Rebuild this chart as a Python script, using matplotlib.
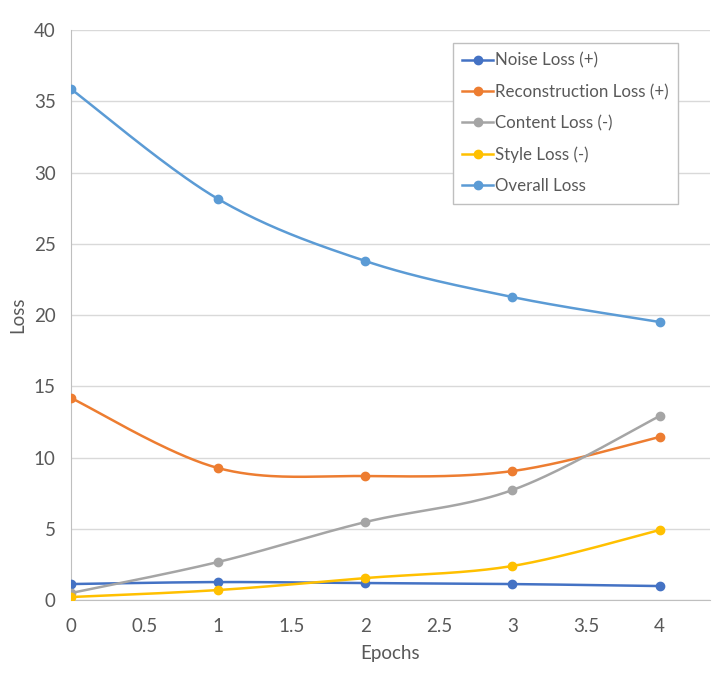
import numpy as np
import matplotlib
matplotlib.use("Agg")
import matplotlib.pyplot as plt

epochs = [0, 1, 2, 3, 4]
noise_loss = [1.12, 1.26, 1.19, 1.12, 0.98]
recon_loss = [14.18, 9.26, 8.70, 9.05, 11.44]
content_loss = [0.49, 2.67, 5.47, 7.72, 12.91]
style_loss = [0.21, 0.70, 1.54, 2.39, 4.91]
overall_loss = [35.86, 28.14, 23.79, 21.26, 19.51]

labels = ["Noise Loss (+)", "Reconstruction Loss (+)", "Content Loss (-)",
          "Style Loss (-)", "Overall Loss"]
colors = ["#4472C4", "#ED7D31", "#A5A5A5", "#FFC000", "#5B9BD5"]

plt.rcParams['font.family'] = ['Lato', 'DejaVu Sans']
text_color = "#595959"


def smooth(x, y, n=40):
    x = np.asarray(x, float)
    y = np.asarray(y, float)
    px = np.concatenate([[x[0]], x, [x[-1]]])
    py = np.concatenate([[y[0]], y, [y[-1]]])
    xs, ys = [], []
    t = np.linspace(0, 1, n)
    for i in range(1, len(px) - 2):
        p0 = np.array([px[i], py[i]])
        p3 = np.array([px[i + 1], py[i + 1]])
        c1 = p0 + (np.array([px[i + 1], py[i + 1]]) - np.array([px[i - 1], py[i - 1]])) / 6
        c2 = p3 - (np.array([px[i + 2], py[i + 2]]) - np.array([px[i], py[i]])) / 6
        b = ((1 - t) ** 3)[:, None] * p0 + (3 * (1 - t) ** 2 * t)[:, None] * c1 \
            + (3 * (1 - t) * t ** 2)[:, None] * c2 + (t ** 3)[:, None] * p3
        xs.extend(b[:, 0])
        ys.extend(b[:, 1])
    return xs, ys


fig = plt.figure(figsize=(7.14, 6.76), dpi=100)
ax = fig.add_axes([0.0994, 0.1124, 0.8946, 0.8432])

series = [noise_loss, recon_loss, content_loss, style_loss, overall_loss]
handles = []
for vals, lab, col in zip(series, labels, colors):
    sx, sy = smooth(epochs, vals)
    ax.plot(sx, sy, color=col, lw=1.8, zorder=3)
    ax.plot(epochs, vals, 'o', color=col, ms=6, zorder=4)
    h, = ax.plot([], [], '-o', color=col, lw=1.8, ms=6, label=lab)
    handles.append(h)

ax.set_xlim(0, 4.34)
ax.set_ylim(0, 40)
ax.set_xticks(np.arange(0, 4.01, 0.5))
ax.set_xticklabels(["0", "0.5", "1", "1.5", "2", "2.5", "3", "3.5", "4"])
ax.set_yticks(np.arange(0, 41, 5))
ax.yaxis.grid(True, color="#D9D9D9", lw=1)
ax.set_axisbelow(True)
for s in ["top", "right"]:
    ax.spines[s].set_visible(False)
ax.spines["left"].set_color("#BFBFBF")
ax.spines["bottom"].set_color("#BFBFBF")
ax.tick_params(axis="both", length=0, labelsize=13.5, colors=text_color)
ax.tick_params(axis="x", pad=13)
ax.tick_params(axis="y", pad=11)
ax.set_xlabel("Epochs", fontsize=13.5, color=text_color, labelpad=7)
ax.set_ylabel("Loss", fontsize=13.5, color=text_color, labelpad=5)

leg = ax.legend(handles=handles, loc="upper left", bbox_to_anchor=(0.598, 0.977),
                borderaxespad=0, fontsize=12.2, frameon=True, fancybox=False,
                edgecolor="#BFBFBF", handlelength=1.8, handletextpad=0.15,
                labelspacing=0.9, borderpad=0.55, framealpha=1)
for t in leg.get_texts():
    t.set_color(text_color)

fig.savefig("out.png", dpi=100)
